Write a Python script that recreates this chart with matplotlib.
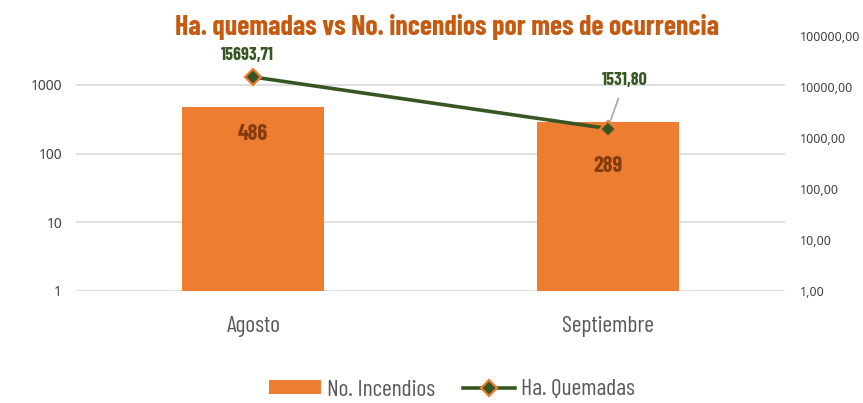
import matplotlib
matplotlib.use("Agg")
import matplotlib.pyplot as plt
from matplotlib.patches import Patch
from matplotlib.lines import Line2D
import numpy as np

categories = ["Agosto", "Septiembre"]
incendios = [486, 289]
hectareas = [15693.71, 1531.80]
left_ticks = [1, 10, 100, 1000]
right_ticks = [1, 10, 100, 1000, 10000, 100000]
title = "Ha. quemadas vs No. incendios por mes de ocurrencia"

NARROW = ["Barlow Condensed", "DejaVu Sans"]
TICKF = ["Noto Sans", "DejaVu Sans"]
ORANGE = "#ED7D31"
GREEN = "#375623"
BROWN = "#843C0C"

fig = plt.figure(figsize=(8.63, 4.03), dpi=100)
ax = fig.add_axes([76/863, 112/403, 709/863, 255/403])
ax2 = ax.twinx()

x = np.arange(len(categories))
ax.bar(x, incendios, width=0.4, color=ORANGE, zorder=2)
ax.set_yscale("log")
ax.set_ylim(1, 10 ** (255 / 68.67))
ax.set_xlim(-0.5, len(categories) - 0.5)
ax.set_yticks(left_ticks)
ax.set_yticklabels([str(t) for t in left_ticks], family=TICKF, fontsize=10, color="#404040")
ax.yaxis.set_minor_locator(matplotlib.ticker.NullLocator())
ax.tick_params(axis="y", length=0, pad=10)
ax.set_xticks(x)
ax.set_xticklabels(categories, family=NARROW, fontsize=17, color="#595959")
ax.tick_params(axis="x", length=0, pad=18)
ax.grid(axis="y", color="#D9D9D9", linewidth=1.2, zorder=0)
ax.set_axisbelow(True)
for s in ax.spines.values():
    s.set_visible(False)
for s in ax2.spines.values():
    s.set_visible(False)

ax2.plot(x, hectareas, color=GREEN, linewidth=2.6, marker="D", markersize=8.5,
         markerfacecolor=GREEN, markeredgecolor=ORANGE, markeredgewidth=1.6, zorder=5)
ax2.set_yscale("log")
ax2.set_ylim(1, 1e5)
ax2.set_yticks(right_ticks)
ax2.set_yticklabels([f"{t:.2f}".replace(".", ",") for t in right_ticks], family=TICKF, fontsize=9, color="#404040")
ax2.yaxis.set_minor_locator(matplotlib.ticker.NullLocator())
ax2.tick_params(axis="y", length=0, pad=11)

bar_offsets = [-27, -44]
for xi, v, off in zip(x, incendios, bar_offsets):
    ax.annotate(str(v), (xi, v), xytext=(0, off), textcoords="offset pixels",
                ha="center", va="center", family=NARROW, fontsize=16, fontweight="bold", color=BROWN, zorder=6)

line_offsets = [(-6, 22), (17, 48)]
for i, (xi, v, off) in enumerate(zip(x, hectareas, line_offsets)):
    lab = f"{v:.2f}".replace(".", ",")
    kw = dict(ha="center", va="center", family=NARROW, fontsize=13, fontweight="bold", color=GREEN, zorder=6)
    if i == 1:
        kw["arrowprops"] = dict(arrowstyle="-", color="#A6A6A6", lw=1.2, shrinkA=5, shrinkB=4)
    ax2.annotate(lab, (xi, v), xytext=off, textcoords="offset pixels", **kw)

fig.text(447/863, 376/403, title, ha="center", va="center", family=NARROW, fontsize=20,
         fontweight="bold", color="#C55A11")

handles = [Patch(facecolor=ORANGE, edgecolor="none"),
           Line2D([0], [0], color=GREEN, linewidth=2.6, marker="D", markersize=8.5,
                  markerfacecolor=GREEN, markeredgecolor=ORANGE, markeredgewidth=1.6)]
fig.legend(handles, ["No. Incendios", "Ha. Quemadas"], loc="center", bbox_to_anchor=(452/863, 13/403),
           ncol=2, frameon=False, prop={"family": NARROW, "size": 17}, labelcolor="#595959",
           handlelength=2.2, handleheight=0.5, columnspacing=1.2, handletextpad=0.25)

fig.savefig("out.png", dpi=100)
